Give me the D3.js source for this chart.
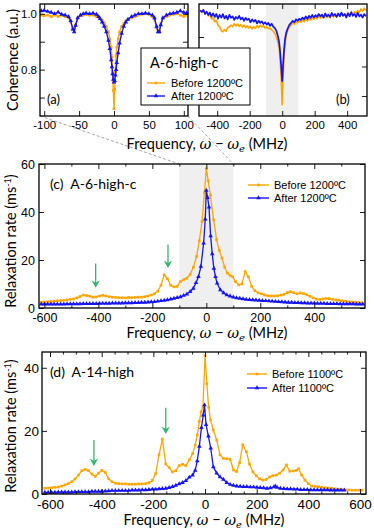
<!DOCTYPE html>
<html><head><meta charset="utf-8">
<script src="https://cdn.jsdelivr.net/npm/d3@7"></script>
<style>body{margin:0;background:#fff}svg{display:block}</style>
</head><body><script>
// ---------- DATA ----------
// (a) coherence, narrow scan
const aFreq = [-104,-100,-95,-90,-85,-80,-75,-70,-65,-62,-59,-57,-55,-52,-48,-44,-40,-35,-30,-25,-22,-20,-17,-14,-11,-8,-6,-4,-3,-2,-1,0,1,2,3,4,6,8,11,14,17,20,25,30,35,40,45,50,55,58,61,63,65,67,70,75,80,85,90,95,100,104];
const aBefore = [0.995,0.993,0.995,0.990,0.995,0.990,0.995,0.990,0.985,0.970,0.948,0.940,0.960,0.985,0.993,0.995,0.998,0.995,0.995,0.990,0.988,0.985,0.978,0.968,0.955,0.935,0.910,0.880,0.845,0.790,0.725,0.660,0.730,0.790,0.850,0.880,0.910,0.935,0.955,0.965,0.975,0.980,0.985,0.990,0.995,0.998,1.000,0.998,0.990,0.980,0.950,0.940,0.940,0.965,0.985,0.990,0.995,0.998,1.000,0.995,0.990,0.995];
const aAfter = [1.010,1.012,1.008,1.005,1.000,1.006,0.998,0.995,0.990,0.975,0.945,0.935,0.958,0.985,0.995,1.000,1.002,1.000,1.002,0.998,0.990,0.982,0.970,0.955,0.935,0.905,0.875,0.835,0.810,0.785,0.765,0.755,0.760,0.780,0.800,0.825,0.860,0.895,0.930,0.955,0.970,0.980,0.990,0.995,1.000,1.000,1.002,1.000,0.995,0.985,0.955,0.935,0.935,0.960,0.985,0.995,1.000,1.002,1.005,1.010,1.005,1.003];
// (b) coherence, wide scan
const bFreq = [-505,-495,-485,-475,-465,-455,-445,-435,-425,-415,-405,-395,-385,-375,-365,-355,-345,-335,-325,-315,-305,-295,-285,-275,-265,-255,-245,-235,-225,-215,-205,-195,-185,-175,-165,-155,-145,-135,-125,-115,-105,-95,-85,-75,-65,-55,-45,-35,-25,-18,-12,-6,0,6,12,18,25,35,45,55,65,75,85,95,105,115,125,135,145,155,165,175,185,195,205,215,225,235,245,255,265,275,285,295,305,315,325,335,345,355,365,375,385,395,405,415,425,435,445,455,465,475,485,495,505,515];
const bBefore = [0.992,0.984,0.990,0.980,0.985,0.972,0.976,0.962,0.965,0.952,0.955,0.940,0.935,0.922,0.918,0.925,0.920,0.932,0.935,0.940,0.935,0.945,0.938,0.944,0.936,0.942,0.934,0.940,0.932,0.938,0.930,0.936,0.928,0.935,0.930,0.938,0.932,0.940,0.934,0.938,0.930,0.934,0.928,0.930,0.924,0.920,0.912,0.900,0.880,0.860,0.820,0.760,0.670,0.775,0.840,0.880,0.905,0.925,0.935,0.940,0.948,0.944,0.952,0.948,0.956,0.950,0.958,0.952,0.962,0.955,0.964,0.958,0.966,0.960,0.968,0.962,0.970,0.964,0.972,0.965,0.974,0.966,0.972,0.966,0.976,0.968,0.975,0.970,0.978,0.970,0.980,0.972,0.978,0.974,0.982,0.976,0.984,0.978,0.986,0.980,0.990,0.984,0.995,0.988,0.998,0.990];
const bAfter = [0.990,0.985,0.992,0.978,0.986,0.975,0.983,0.970,0.980,0.968,0.978,0.962,0.975,0.966,0.978,0.963,0.972,0.960,0.975,0.965,0.970,0.958,0.968,0.962,0.972,0.960,0.966,0.955,0.965,0.958,0.962,0.950,0.960,0.952,0.958,0.946,0.955,0.948,0.953,0.944,0.950,0.942,0.948,0.938,0.945,0.935,0.930,0.920,0.900,0.880,0.845,0.800,0.750,0.810,0.860,0.895,0.915,0.930,0.942,0.948,0.955,0.950,0.960,0.955,0.962,0.958,0.966,0.960,0.970,0.962,0.972,0.965,0.975,0.966,0.974,0.968,0.978,0.970,0.976,0.966,0.980,0.970,0.976,0.968,0.982,0.972,0.978,0.968,0.980,0.970,0.983,0.972,0.978,0.966,0.980,0.970,0.984,0.972,0.978,0.968,0.982,0.970,0.976,0.966,0.978,0.970];
// (c) relaxation rate, A-6-high-c
const cBeforeFreq = [-612,-600,-588,-576,-564,-552,-540,-528,-516,-504,-492,-480,-468,-456,-444,-432,-420,-408,-396,-384,-372,-360,-348,-336,-324,-312,-300,-288,-276,-264,-252,-240,-228,-216,-204,-192,-180,-168,-156,-144,-132,-120,-108,-96,-84,-72,-60,-48,-36,-26,-16,-7,0,7,15,27,38,48,58,68,78,88,98,108,120,132,144,156,168,180,192,204,216,228,240,252,264,276,288,300,312,324,336,348,360,372,384,396,408,420,432,444,456,468,480,492,504,516,528,540,552,564,576];
const cBeforeRate = [2.4,2.5,2.6,2.7,2.8,3.0,3.1,3.2,3.4,3.6,3.8,4.2,4.8,5.4,5.2,4.9,4.5,4.6,5.0,5.3,5.0,4.7,4.5,4.4,4.3,4.3,4.2,4.4,4.3,4.4,4.5,4.5,4.7,5.0,5.4,6.0,7.0,9.5,13.8,12.2,9.5,8.8,9.0,11.0,11.8,12.4,14.0,17.0,21.5,28.0,36.0,48.0,58.0,53.0,47.0,36.8,28.5,24.0,20.8,17.0,14.5,13.6,13.0,11.0,9.6,10.0,15.2,13.0,9.0,7.2,6.3,5.9,5.4,5.1,5.0,5.0,5.1,5.4,5.7,6.4,6.8,6.4,5.9,6.3,6.0,5.5,4.9,4.2,3.7,3.6,3.8,4.0,3.9,3.6,3.4,3.2,3.0,2.8,2.6,2.5,2.4,2.3,2.2];
const cAfterFreq = [-612,-600,-588,-576,-564,-552,-540,-528,-516,-504,-492,-480,-468,-456,-444,-432,-420,-408,-396,-384,-372,-360,-348,-336,-324,-312,-300,-288,-276,-264,-252,-240,-228,-216,-204,-192,-180,-168,-156,-144,-132,-120,-108,-96,-84,-72,-60,-48,-38,-29,-20,-10,-4,0,5,10,16,22,28,34,40,52,64,76,88,100,112,124,136,148,160,172,184,196,208,220,232,244,256,268,280,292,304,316,328,340,352,364,376,388,400,412,424,436,448,460,472,484,496,508,520,532,544,556,568,580];
const cAfterRate = [1.6,1.6,1.6,1.6,1.6,1.6,1.6,1.6,1.7,1.7,1.7,1.7,1.7,1.8,1.8,1.8,1.8,1.8,1.9,1.9,1.9,1.9,2.0,2.0,2.0,2.0,2.1,2.1,2.1,2.2,2.2,2.3,2.3,2.4,2.5,2.6,2.8,3.0,3.2,3.4,3.7,4.0,4.3,4.6,5.2,5.8,6.8,8.2,10.5,13.1,17.3,27.0,37.0,49.0,46.0,42.0,30.0,22.5,16.5,13.0,10.3,7.5,6.3,5.4,4.9,4.5,4.2,4.0,3.8,3.6,3.5,3.4,3.3,3.2,3.1,3.0,2.9,2.8,2.7,2.6,2.5,2.4,2.3,2.3,2.2,2.2,2.1,2.1,2.0,2.0,2.0,1.9,1.9,1.9,1.8,1.8,1.8,1.8,1.7,1.7,1.7,1.7,1.7,1.6,1.6,1.6];
// (d) relaxation rate, A-14-high
const dBeforeFreq = [-620,-607,-594,-581,-568,-555,-542,-529,-516,-503,-490,-477,-464,-451,-438,-425,-412,-399,-386,-373,-360,-347,-334,-321,-308,-295,-282,-269,-256,-243,-230,-217,-204,-191,-178,-165,-152,-139,-126,-113,-100,-87,-74,-61,-48,-38,-30,-22,-15,-8,0,7,14,21,32,45,58,71,84,97,110,122,134,146,160,172,185,198,211,224,237,250,263,276,289,302,315,328,341,354,362,374,387,400,413,426,439,452,465,478,491,504,517,530,543,556,569,582,595,608];
const dBeforeRate = [1.8,1.9,2.0,2.1,2.2,2.5,2.9,3.3,3.9,4.8,6.0,7.4,7.8,7.4,6.3,5.6,6.6,7.5,6.8,4.8,3.9,3.4,3.3,3.2,3.2,3.1,3.1,3.1,3.2,3.2,3.3,3.6,4.3,6.5,12.5,17.4,9.5,8.4,7.0,7.4,9.0,9.4,9.0,10.8,12.8,15.5,18.7,23.0,26.1,27.7,43.8,35.0,27.5,23.5,20.3,17.1,12.4,11.3,11.2,11.0,7.6,7.1,10.0,15.6,13.4,9.5,7.0,5.8,4.8,4.4,4.6,5.4,5.8,6.0,6.6,7.6,9.2,7.2,7.3,7.5,8.0,6.0,4.4,3.3,2.5,2.4,2.3,2.1,2.0,1.9,1.8,1.6,1.5,1.4,1.3,1.3,1.2,1.2,1.2,1.2];
const dAfterFreq = [-620,-607,-594,-581,-568,-555,-542,-529,-516,-503,-490,-477,-464,-451,-438,-425,-412,-399,-386,-373,-360,-347,-334,-321,-308,-295,-282,-269,-256,-243,-230,-217,-204,-191,-178,-165,-152,-139,-126,-113,-100,-87,-74,-61,-48,-38,-30,-22,-14,-7,-2,4,13,22,32,45,58,71,84,97,110,123,136,149,162,175,188,201,214,227,240,253,266,272,279,292,305,318,331,344,357,370,383,396,409,422,435,448,461,474,487,500,513,526,539];
const dAfterRate = [0.5,0.5,0.5,0.5,0.6,0.6,0.6,0.6,0.6,0.7,0.7,0.7,0.7,0.7,0.8,0.8,0.8,0.8,0.9,1.0,1.1,1.1,1.1,1.1,1.1,1.1,1.2,1.2,1.2,1.3,1.3,1.4,1.5,1.5,1.6,1.7,1.8,2.0,2.3,2.7,3.2,3.6,4.2,5.3,6.0,7.5,10.5,15.1,21.0,25.0,28.2,22.0,18.3,14.5,8.6,6.6,5.4,4.6,3.6,3.0,2.7,2.5,2.4,2.3,2.3,2.2,2.2,2.1,2.0,1.9,1.8,1.9,2.2,2.5,2.1,1.8,1.7,1.6,1.6,1.5,1.5,1.4,1.4,1.4,1.3,1.3,1.3,1.3,1.3,1.3,1.2,1.2,1.2,1.2,1.2];
// annotations (green arrows): frequency, arrow tail rate, arrow tip rate
const cArrowFreq = [-410,-142], cArrowFrom = [18.5,26.5], cArrowTo = [8.4,16.7];
const dArrowFreq = [-430,-152], dArrowFrom = [17.1,27.3], dArrowTo = [8.9,19.0];
// tick values
const aXTicks = [-100,-50,0,50,100], aYTicks = [0.7,0.8,0.9,1.0], aYLabels = [0.8,1.0];
const bXTicks = [-400,-200,0,200,400], bYTicks = [0.7,0.8,0.9];
const cXTicks = [-600,-400,-200,0,200,400], cYTicks = [0,20,40,60];
const dXTicks = [-600,-400,-200,0,200,400,600], dYTicks = [0,20,40];
const legendC = ["Before 1200ºC","After 1200ºC"], legendD = ["Before 1100ºC","After 1100ºC"];

// ---------- DRAWING ----------
const ORANGE = "#FFA500", BLUE = "#1414F5", GREEN = "#35B56A";
const TICKF = "'Liberation Sans', Arial, sans-serif";
const TITLEF = "Lato, 'Open Sans', sans-serif";
const svg = d3.select("body").append("svg").attr("width",374).attr("height",532);

const xA = d3.scaleLinear().domain([-106,106]).range([40,188]);
const yA = d3.scaleLinear().domain([0.634,1.035]).range([116,4]);
const xB = d3.scaleLinear().domain([-512,522]).range([199,367]);
const yB = d3.scaleLinear().domain([0.632,1.012]).range([116,4]);
const xC = d3.scaleLinear().domain([-620,588]).range([39,365]);
const yC = d3.scaleLinear().domain([0,60]).range([308,164]);
const xD = d3.scaleLinear().domain([-631,623]).range([42,366]);
const yD = d3.scaleLinear().domain([0,45]).range([494,352]);

function band(x,y,lo,hi){
  svg.append("rect").attr("x",x(lo)).attr("y",y.range()[1]).attr("width",x(hi)-x(lo))
    .attr("height",y.range()[0]-y.range()[1]).attr("fill","#efefef");
}
function series(x,y,fs,vs,color,kind,lw,mk){
  const pts = fs.map((f,i)=>[f,vs[i]]);
  const g = svg.append("g");
  g.append("path").datum(pts).attr("fill","none").attr("stroke",color).attr("stroke-width",lw)
    .attr("stroke-linejoin","round").attr("d",d3.line().x(d=>x(d[0])).y(d=>y(d[1])));
  if(mk){
    const sym = d3.symbol().type(kind==="tri"?d3.symbolTriangle:d3.symbolSquare).size(kind==="tri"?9:7);
    g.selectAll(null).data(pts).join("path")
      .attr("transform",d=>`translate(${x(d[0])},${y(d[1])})`).attr("d",sym).attr("fill",color);
  }
}
function axes(x,y,o){
  const g = svg.append("g");
  const [x0,x1]=x.range(), [y0,y1]=y.range();
  const st = sel=>{ sel.select(".domain").remove();
    sel.selectAll("line").attr("stroke","#000").attr("stroke-width",0.9);
    sel.selectAll("text").attr("font-family",TICKF).attr("font-size",o.fs).attr("fill","#000"); };
  const fmt = d=>String(d);
  g.append("g").attr("transform",`translate(0,${y0})`).call(d3.axisBottom(x).tickValues(o.xt).tickSize(-5).tickPadding(o.xpad).tickFormat(o.xfmt||fmt)).call(st);
  g.append("g").attr("transform",`translate(0,${y1})`).call(d3.axisTop(x).tickValues(o.xt).tickSize(-5).tickFormat("")).call(st);
  if(o.xm){
    const mt = o.xm.filter(v=>!o.xt.includes(v));
    g.append("g").attr("transform",`translate(0,${y0})`).call(d3.axisBottom(x).tickValues(mt).tickSize(-2.5).tickFormat("")).call(st);
    g.append("g").attr("transform",`translate(0,${y1})`).call(d3.axisTop(x).tickValues(mt).tickSize(-2.5).tickFormat("")).call(st);
  }
  g.append("g").attr("transform",`translate(${x0},0)`).call(d3.axisLeft(y).tickValues(o.yt).tickSize(-5).tickPadding(o.ypad).tickFormat(o.yfmt||fmt)).call(st);
  g.append("g").attr("transform",`translate(${x1},0)`).call(d3.axisRight(y).tickValues(o.yt).tickSize(-5).tickFormat("")).call(st);
  g.append("rect").attr("x",x0).attr("y",y1).attr("width",x1-x0).attr("height",y0-y1)
    .attr("fill","none").attr("stroke","#000").attr("stroke-width",1.3);
}
function xTitle(cx,by){
  const t = svg.append("text").attr("x",cx).attr("y",by).attr("text-anchor","middle")
    .attr("font-family",TITLEF).attr("font-size",14.5).attr("fill","#000");
  t.append("tspan").text("Frequency, ");
  t.append("tspan").attr("font-family","'DejaVu Serif',serif").attr("font-style","italic").text("ω");
  t.append("tspan").text(" − ");
  t.append("tspan").attr("font-family","'DejaVu Serif',serif").attr("font-style","italic").text("ω");
  t.append("tspan").attr("font-family","'DejaVu Serif',serif").attr("font-style","italic").attr("font-size",10).attr("dy",3).text("e");
  t.append("tspan").attr("dy",-3).text(" (MHz)");
}
function yTitle(bx,cy,main,sup){
  const t = svg.append("text").attr("transform",`translate(${bx},${cy}) rotate(-90)`).attr("text-anchor","middle")
    .attr("font-family",TITLEF).attr("font-size",14.5).attr("fill","#000");
  t.append("tspan").text(main);
  if(sup){
    t.append("tspan").attr("font-size",9).attr("dy",-5).text(sup);
    t.append("tspan").attr("dy",5).text(")");
  }
}
function label(x,y,txt,fs){
  svg.append("text").attr("x",x).attr("y",y).attr("font-family",TITLEF).attr("font-size",fs).attr("fill","#000").attr("xml:space","preserve").text(txt);
}
function legend(x0,x1,tx,ys,names,fs){
  const cols=[ORANGE,BLUE], kinds=["sq","tri"];
  names.forEach((n,i)=>{
    svg.append("line").attr("x1",x0).attr("x2",x1).attr("y1",ys[i]).attr("y2",ys[i]).attr("stroke",cols[i]).attr("stroke-width",1.4);
    const sym = d3.symbol().type(kinds[i]==="tri"?d3.symbolTriangle:d3.symbolSquare).size(kinds[i]==="tri"?9:7);
    svg.append("path").attr("transform",`translate(${(x0+x1)/2},${ys[i]})`).attr("d",sym).attr("fill",cols[i]);
    svg.append("text").attr("x",tx).attr("y",ys[i]+4).attr("font-family",TICKF).attr("font-size",fs).attr("fill","#000").text(n);
  });
}
function arrows(x,y,fs,r0,r1){
  fs.forEach((f,i)=>{
    const X=x(f), Y0=y(r0[i]), Y1=y(r1[i]);
    svg.append("line").attr("x1",X).attr("x2",X).attr("y1",Y0).attr("y2",Y1-4).attr("stroke",GREEN).attr("stroke-width",1.3);
    svg.append("path").attr("d",`M${X},${Y1} L${X-4.2},${Y1-7.5} L${X},${Y1-5} L${X+4.2},${Y1-7.5} Z`).attr("fill",GREEN);
  });
}

// backgrounds
band(xB,yB,-100,100);
band(xC,yC,-100,100);
// dashed connectors from (a) to zoom band in (c)
[[xA.range()[0],-100],[xA.range()[1],100]].forEach(([sx,f])=>{
  svg.append("line").attr("x1",sx).attr("y1",yA.range()[0]).attr("x2",xC(f)).attr("y2",yC(60))
    .attr("stroke","#9a9a9a").attr("stroke-width",0.9).attr("stroke-dasharray","3,2");
});

// (a)
series(xA,yA,aFreq,aBefore,ORANGE,"sq",1.4,true);
series(xA,yA,aFreq,aAfter,BLUE,"tri",1.4,true);
axes(xA,yA,{xt:aXTicks,yt:aYTicks,fs:11.5,xpad:5,ypad:3,
  yfmt:d=>aYLabels.some(v=>Math.abs(v-d)<1e-9)?d.toFixed(1):""});
// (b)
series(xB,yB,bFreq,bBefore,ORANGE,"sq",1.7,false);
series(xB,yB,bFreq,bAfter,BLUE,"tri",1.7,false);
axes(xB,yB,{xt:bXTicks,yt:bYTicks,fs:11.5,xpad:5,ypad:3,yfmt:()=>""});
// (c)
series(xC,yC,cBeforeFreq,cBeforeRate,ORANGE,"sq",1.3,true);
series(xC,yC,cAfterFreq,cAfterRate,BLUE,"tri",1.3,true);
axes(xC,yC,{xt:cXTicks,xm:d3.range(-600,589,100),yt:cYTicks,fs:12.5,xpad:5,ypad:4});
arrows(xC,yC,cArrowFreq,cArrowFrom,cArrowTo);
// (d)
series(xD,yD,dBeforeFreq,dBeforeRate,ORANGE,"sq",1.3,true);
series(xD,yD,dAfterFreq,dAfterRate,BLUE,"tri",1.3,true);
axes(xD,yD,{xt:dXTicks,xm:d3.range(-600,601,50),yt:dYTicks,fs:13.5,xpad:5,ypad:3});
arrows(xD,yD,dArrowFreq,dArrowFrom,dArrowTo);

// titles
yTitle(17.5,60,"Coherence (a.u.)");
yTitle(15.5,241,"Relaxation rate (ms","-1");
yTitle(16,426,"Relaxation rate (ms","-1");
xTitle(207,149);
xTitle(207,338);
xTitle(204,525);

// panel labels
label(47,104,"(a)",13);
label(336,104,"(b)",13);
label(50,189,"(c)  A-6-high-c",14);
label(50,377,"(d)  A-14-high",14);

// legends
legend(248,269,274,[185,198],legendC,11);
legend(247,267,272,[374,388],legendD,11);
// top legend box
svg.append("rect").attr("x",141).attr("y",48).attr("width",109).attr("height",57).attr("fill","#fff").attr("stroke","#000").attr("stroke-width",1);
label(150,68,"A-6-high-c",14.5);
legend(147,165,171,[83,96],legendC,11);
</script></body></html>
